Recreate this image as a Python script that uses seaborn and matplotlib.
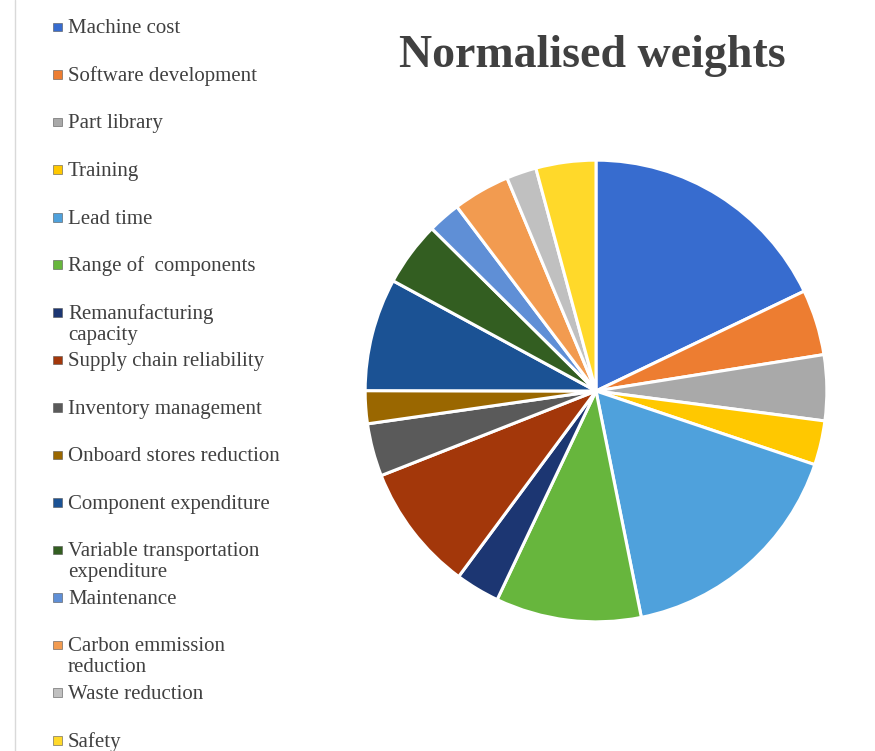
import matplotlib
matplotlib.use('Agg')
import matplotlib.pyplot as plt
import seaborn as sns
from matplotlib.patches import Rectangle
from matplotlib.lines import Line2D

# Criteria and their normalised weights (in %)
criteria = ['Machine cost', 'Software development', 'Part library', 'Training',
            'Lead time', 'Range of  components', 'Remanufacturing\ncapacity',
            'Supply chain reliability', 'Inventory management',
            'Onboard stores reduction', 'Component expenditure',
            'Variable transportation\nexpenditure', 'Maintenance',
            'Carbon emmission\nreduction', 'Waste reduction', 'Safety']
weights = [17.9, 4.6, 4.6, 3.1, 16.7, 10.2, 3.1, 8.9,
           3.7, 2.3, 7.9, 4.5, 2.3, 4.0, 2.1, 4.2]
colors = ['#376CCF', '#ED7D31', '#A9A9A9', '#FFC800', '#4FA1DC', '#67B63D',
          '#1C3672', '#A3370A', '#5A5A5A', '#9A6700', '#1B5294', '#335E21',
          '#5F8FD6', '#F29B50', '#C0C0C0', '#FFD92A']

sns.set_theme(style='white')
plt.rcParams['font.family'] = ['Liberation Serif', 'DejaVu Serif']

W, H = 875, 751
fig = plt.figure(figsize=(W / 100, H / 100), dpi=100)

# pie centred at about (596, 391) px, radius ~232 px
cx, cy, r = 596, 391, 232
ax = fig.add_axes([(cx - r) / W, (H - cy - r) / H, 2 * r / W, 2 * r / H])
ax.pie(weights, colors=colors, startangle=90, counterclock=False,
       wedgeprops=dict(edgecolor='white', linewidth=2.2))
ax.set_xlim(-1.005, 1.005)
ax.set_ylim(-1.005, 1.005)
ax.set_aspect('equal')
ax.axis('off')

fig.text(592 / W, 1 - 67 / H, 'Normalised weights', ha='center', va='baseline',
         fontsize=33, fontweight='bold', color='#404040')

# legend down the left side (wrapped labels run on below their slot)
y0, step = 27, 47.55
for i, (lab, col) in enumerate(zip(criteria, colors)):
    y = y0 + i * step
    fig.add_artist(Rectangle((53 / W, 1 - (y + 4.3) / H), 8.6 / W, 8.6 / H,
                             facecolor=col, edgecolor='#555555', linewidth=0.4,
                             transform=fig.transFigure))
    for k, line in enumerate(lab.split('\n')):
        fig.text(68 / W, 1 - (y + 6.3 + 21 * k) / H, line, ha='left',
                 va='baseline', fontsize=15, color='#404040')

fig.add_artist(Line2D([15 / W, 15 / W], [0, 1], color='#D9D9D9', linewidth=1,
                      transform=fig.transFigure))

fig.savefig('out.png', dpi=100)
